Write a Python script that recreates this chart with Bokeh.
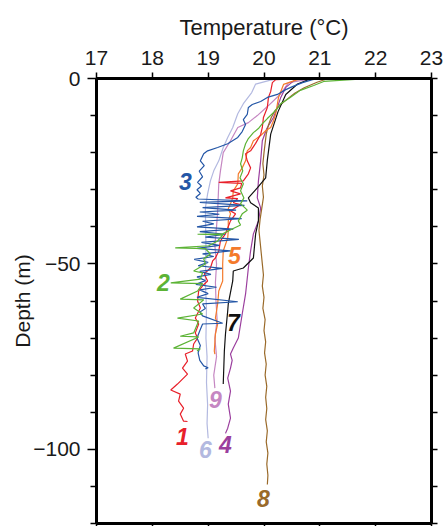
from bokeh.plotting import figure
from bokeh.models import Range1d, LinearAxis, FixedTicker
from bokeh.embed import file_html
from bokeh.resources import INLINE
from bokeh.core.properties import value

# ---------------- data (temperature in degC, depth in m) ----------------
t1 = [20.8, 20.21, 20.15, 20.12, 20.08, 20.06, 19.99, 19.97, 19.94, 19.85,
      19.76, 19.67, 19.70, 19.76, 19.72, 19.63, 19.19, 19.60, 19.58, 19.40,
      19.58, 19.31, 19.53, 19.45, 19.58, 19.40, 19.49, 19.40, 19.35, 19.31,
      19.22, 19.19, 19.13, 19.08, 19.04, 18.93, 18.99, 18.90, 18.83, 18.81,
      18.86, 18.77, 18.83, 18.77, 18.81, 18.74, 18.72, 18.59, 18.63, 18.54,
      18.63, 18.45, 18.33, 18.50, 18.47, 18.56, 18.50, 18.56, 18.63]
d1 = [0, -0.3, -1.1, -3.5, -5.1, -7.8, -10.5, -13.2, -15.1, -17.5,
      -19.5, -20.3, -22.2, -24.1, -25.7, -27.6, -28.0, -28.3, -29.5, -30.3,
      -31.1, -32.2, -32.4, -33.5, -34.0, -35.7, -36.5, -38.4, -40.3, -41.9,
      -43.8, -46.5, -48.4, -49.2, -51.1, -52.7, -54.6, -55.9, -57.3, -60.0,
      -61.9, -64.6, -66.2, -68.6, -70.0, -71.6, -73.5, -74.3, -76.2, -78.1,
      -79.7, -82.4, -84.0, -85.1, -87.0, -88.9, -90.5, -92.4, -92.5]

t2 = [21.91, 21.07, 20.89, 20.65, 20.47, 20.30, 20.21, 20.06, 19.97, 19.90,
      19.81, 19.72, 19.67, 19.63, 19.61, 19.58, 19.62, 19.57, 19.63, 19.58,
      19.64, 19.58, 19.66, 19.70, 19.61, 19.54, 19.58, 19.44, 19.26, 18.81,
      19.26, 19.17, 19.01, 18.41, 18.95, 19.04, 18.92, 18.95, 18.74, 18.90,
      18.86, 18.33, 18.90, 18.81, 18.50, 18.92, 18.74, 18.90, 18.45, 18.83,
      18.74, 18.50, 18.83, 18.38, 18.86, 18.80]
d2 = [0, -0.8, -1.9, -3.2, -5.1, -6.8, -8.6, -10.8, -12.2, -13.5,
      -14.6, -16.2, -17.6, -19.5, -21.4, -23.0, -24.9, -26.8, -28.4, -30.3,
      -32.2, -33.8, -34.9, -35.5, -36.5, -38.4, -39.5, -40.5, -41.9, -42.0,
      -42.2, -43.8, -45.1, -45.7, -45.9, -47.3, -48.6, -50.0, -51.9, -52.4,
      -54.1, -55.1, -55.3, -57.3, -59.5, -59.7, -61.9, -63.5, -64.6, -65.4,
      -68.6, -69.5, -69.7, -72.7, -72.9, -73.5]

t3 = [21.0, 20.87, 20.69, 20.51, 20.39, 20.24, 20.06, 19.94, 19.79, 19.72,
      19.70, 19.63, 19.67, 19.61, 19.53, 19.35, 19.17, 18.99, 18.92, 18.86,
      18.93, 18.84, 18.90, 18.81, 18.88, 18.80, 18.86, 18.78, 18.82,
      19.70, 18.85, 19.65, 18.90, 19.50, 18.85, 19.20, 18.80, 19.60, 18.90,
      19.10, 18.80, 19.45, 18.85, 19.30, 18.95, 19.55, 18.88, 19.20, 18.80,
      19.40, 18.90, 19.10, 18.75, 19.00, 18.82, 19.25, 18.85, 19.05, 18.80,
      18.95, 18.78, 19.15, 18.85, 19.00, 18.80, 19.53, 18.90, 18.95, 18.85,
      18.90, 19.26, 18.90, 18.85, 18.80, 18.86, 18.82, 18.85, 18.92, 19.0,
      18.95]
d3 = [0, -0.3, -1.1, -2.2, -3.0, -4.3, -5.1, -6.2, -7.0, -7.8,
      -9.7, -11.1, -12.4, -14.3, -15.9, -17.6, -18.6, -19.5, -20.3, -22.2,
      -23.5, -25.0, -26.5, -28.0, -29.0, -30.0, -31.0, -32.0, -32.5,
      -33.0, -33.4, -34.2, -34.8, -35.5, -36.0, -36.6, -37.2, -37.8, -38.5,
      -39.2, -40.0, -40.6, -41.3, -42.0, -42.8, -43.4, -44.2, -45.0, -45.8,
      -46.5, -47.3, -48.0, -48.8, -49.6, -50.5, -51.2, -52.0, -52.8, -53.5,
      -54.5, -55.5, -56.3, -57.0, -58.0, -59.0, -60.2, -60.8, -62.0, -63.0,
      -64.0, -66.0, -66.2, -68.0, -70.0, -72.0, -74.0, -76.0, -77.5, -78.0,
      -78.3]

t4 = [20.95, 20.56, 20.39, 20.30, 20.24, 20.17, 20.05, 19.97, 19.94, 19.90,
      19.88, 19.94, 19.90, 19.81, 19.76, 19.72, 19.67, 19.61, 19.54, 19.45,
      19.40, 19.43, 19.40, 19.35, 19.40, 19.36, 19.40, 19.35, 19.31]
d4 = [0, -0.3, -2.4, -5.1, -7.8, -10.5, -13.5, -16.8, -22.2, -27.6,
      -32.2, -34.9, -38.4, -41.9, -46.5, -51.1, -58.1, -63.5, -70.0, -72.7,
      -74.3, -76.0, -78.1, -80.8, -84.3, -87.8, -91.6, -94.3, -95.7]

t5 = [20.95, 20.60, 20.35, 20.26, 20.21, 20.17, 20.12, 20.03, 19.94, 19.81,
      19.76, 19.70, 19.67, 19.61, 19.54, 19.53, 19.45, 19.44, 19.40, 19.36,
      19.40, 19.36, 19.36, 19.35, 19.27, 19.26, 19.26, 19.26, 19.19, 19.17,
      19.13, 19.17, 19.13, 19.11, 19.12]
d5 = [0, -0.3, -1.6, -5.1, -9.5, -11.4, -13.2, -14.1, -15.4, -16.8,
      -18.6, -19.5, -22.2, -24.1, -25.7, -28.4, -30.3, -32.2, -33.8, -35.1,
      -36.5, -38.4, -41.1, -43.0, -46.5, -50.0, -53.8, -54.6, -57.3, -60.8,
      -64.6, -66.2, -68.9, -73.5, -74.3]

t6 = [20.3, 20.1, 19.85, 19.78, 19.63, 19.53, 19.44, 19.35, 19.27, 19.19,
      19.10, 19.04, 18.99, 18.95, 18.96, 18.95, 18.97, 18.96, 18.98, 18.97,
      18.99, 18.98, 19.0]
d6 = [0, -0.5, -1.5, -3.8, -6.8, -9.5, -13.2, -15.9, -18.6, -22.2,
      -24.9, -27.6, -31.1, -34.9, -45, -55, -62, -70, -75, -82,
      -88, -93, -97]

t7 = [20.85, 20.6, 20.39, 20.25, 20.12, 20.06, 20.03, 19.88, 19.72, 19.76,
      19.90, 19.90, 19.85, 19.81, 19.63, 19.45, 19.44, 19.36, 19.35, 19.31,
      19.29, 19.27]
d7 = [0, -1.5, -4.3, -9.0, -15.0, -22.0, -26.8, -29.5, -32.2, -33.5,
      -34.9, -38.4, -41.9, -48.4, -51.1, -51.9, -54.6, -60.8, -62.7, -68.9,
      -73.5, -82.4]

t8 = [21.15, 20.95, 20.72, 20.55, 20.42, 20.3, 20.2, 20.13, 20.08, 20.04,
      20.02, 20.0, 19.98, 20.0, 19.97, 19.99, 19.96, 19.93, 19.91, 19.93,
      19.95, 19.97, 19.99, 19.97, 20.0, 19.98, 20.02, 20.0, 20.03, 20.01,
      20.04, 20.02, 20.05, 20.03, 20.05, 20.03, 20.06, 20.04, 20.07, 20.05,
      20.07, 20.06]
d8 = [0, -1, -2.5, -4, -5.5, -7, -8.6, -10.5, -12.5, -15,
      -17.5, -20, -23, -26, -29, -32, -35, -38, -41, -44,
      -47, -50, -53, -56, -59, -62, -65, -68, -71, -74,
      -77, -80, -83, -86, -89, -92, -95, -98, -101, -104,
      -107, -109.5]

t9 = [20.9, 20.44, 20.30, 20.08, 19.88, 19.72, 19.53, 19.40, 19.27, 19.22,
      19.19, 19.17, 19.15, 19.12, 19.15, 19.13, 19.14, 19.16, 19.12, 19.15,
      19.10, 19.12]
d9 = [0, -1.1, -4.1, -7.3, -10.0, -11.9, -13.2, -16.8, -20.0, -24.9,
      -28.4, -35.7, -40, -45, -50, -55, -60, -65, -70, -75,
      -80, -83.5]

# profile labels
lab_text = ["1", "2", "3", "4", "5", "6", "7", "8", "9"]
lab_t = [18.54, 18.20, 18.59, 19.31, 19.47, 18.95, 19.45, 19.99, 19.13]
lab_d = [-96.5, -55.1, -27.8, -98.6, -47.8, -100.0, -65.9, -113.2, -86.5]

x_ticks = [17, 18, 19, 20, 21, 22, 23]
y_major = [0, -50, -100]
y_minor = [-10, -20, -30, -40, -60, -70, -80, -90, -110, -120]
y_right = [0, -10, -20, -30, -40, -50, -60, -70, -80, -90, -100, -110, -120]

colors = {
    "1": "#e8202a", "2": "#5cb335", "3": "#2456a6", "4": "#9b3f9e",
    "5": "#f47a2b", "6": "#b3b9e0", "7": "#111111", "8": "#9a6a2a",
    "9": "#c587c2",
}

FONT = "Liberation Sans"
TXT = "#1a1a1a"

p = figure(width=444, height=526, output_backend="svg", toolbar_location=None,
           x_range=Range1d(17, 23), y_range=Range1d(-120, 0),
           x_axis_location=None, y_axis_location=None,
           min_border_left=96, min_border_top=78, min_border_right=13,
           min_border_bottom=0)
p.grid.visible = False
p.outline_line_color = None
p.background_fill_color = "white"
p.border_fill_color = "white"


def style_axis(ax, major_out, minor_out):
    ax.axis_line_width = 3
    ax.axis_line_color = "black"
    ax.major_tick_line_width = 1.5
    ax.minor_tick_line_width = 1.5
    ax.major_tick_line_color = "black"
    ax.minor_tick_line_color = "black"
    ax.major_tick_in = 0
    ax.minor_tick_in = 0
    ax.major_tick_out = major_out
    ax.minor_tick_out = minor_out
    ax.major_label_text_font = FONT
    ax.major_label_text_color = TXT
    ax.major_label_text_font_size = "21px"


top = LinearAxis(ticker=FixedTicker(ticks=x_ticks), axis_label="Temperature (°C)")
style_axis(top, 6, 6)
top.major_label_standoff = 8
top.axis_label_text_font = FONT
top.axis_label_text_font_size = "22px"
top.axis_label_text_font_style = "normal"
top.axis_label_text_color = TXT
top.axis_label_standoff = 8
p.add_layout(top, "above")

# bottom and right axes: ticks only (drawn as minor ticks, so no labels)
bottom = LinearAxis(ticker=FixedTicker(ticks=[], minor_ticks=x_ticks))
style_axis(bottom, 3, 3)
p.add_layout(bottom, "below")

right = LinearAxis(ticker=FixedTicker(ticks=[], minor_ticks=y_right))
style_axis(right, 6, 6)
p.add_layout(right, "right")

left = LinearAxis(ticker=FixedTicker(ticks=y_major, minor_ticks=y_minor),
                  axis_label="Depth (m)")
style_axis(left, 9, 6)
left.major_label_standoff = 7
left.major_label_overrides = {0: "0", -50: "\u221250", -100: "\u2212100"}
left.axis_label_text_font = FONT
left.axis_label_text_font_size = "21px"
left.axis_label_text_font_style = "normal"
left.axis_label_text_color = TXT
left.axis_label_standoff = -4
p.add_layout(left, "left")

series = [("6", t6, d6), ("9", t9, d9), ("4", t4, d4), ("8", t8, d8),
          ("7", t7, d7), ("5", t5, d5), ("1", t1, d1), ("3", t3, d3),
          ("2", t2, d2)]
for name, t, d in series:
    p.line(t, d, line_color=colors[name], line_width=1.2)

p.text(x=lab_t, y=lab_d, text=lab_text,
       text_color=[colors[s] for s in lab_text],
       text_font=value(FONT), text_font_style="bold italic",
       text_font_size="23px", text_align="center", text_baseline="middle")

open("out.html", "w").write(file_html(p, INLINE))
